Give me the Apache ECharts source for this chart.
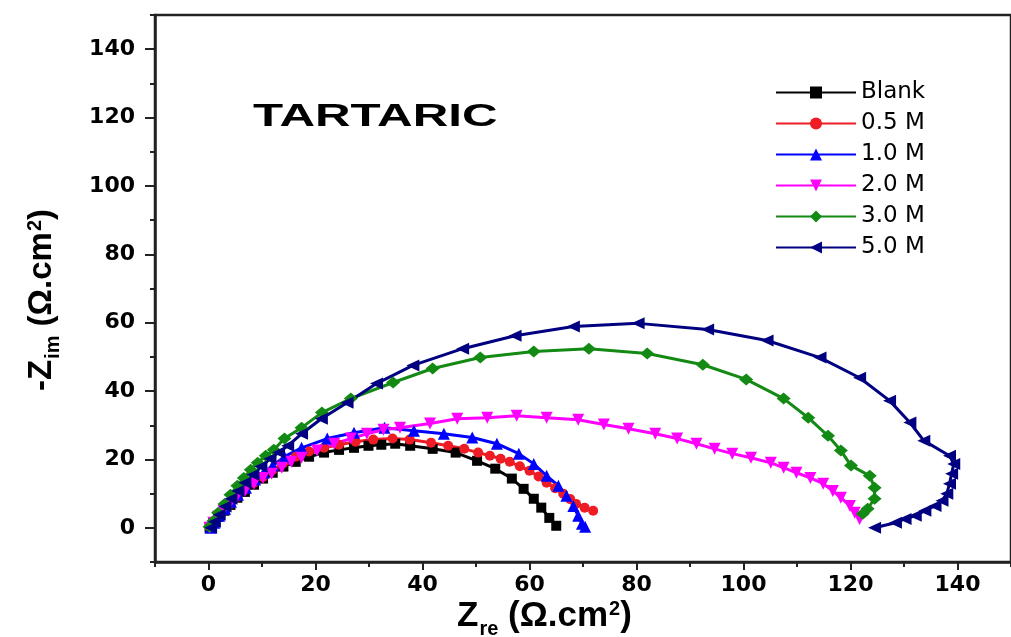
<!DOCTYPE html>
<html>
<head>
<meta charset="utf-8">
<script src="https://cdn.jsdelivr.net/npm/echarts@6/dist/echarts.min.js"></script>
<style>
html,body{margin:0;padding:0;background:#fff;}
#chart{width:1011px;height:637px;}
</style>
</head>
<body>
<div id="chart"></div>
<script>
// ---- data (Zre, -Zim) in ohm.cm2 ----
const seriesNames = ['Blank', '0.5 M', '1.0 M', '2.0 M', '3.0 M', '5.0 M'];

const blank = [[0.2,0],[0.9,1.5],[1.8,3.2],[3.0,5.0],[4.1,6.7],[5.4,8.8],[6.8,10.5],[8.5,12.6],[10.2,14.4],[12.0,16.1],[14.0,17.9],[16.3,19.3],[18.8,20.8],[21.6,22.0],[24.4,22.8],[27.2,23.4],[29.9,24.0],[32.3,24.3],[34.9,24.6],[37.7,24.0],[41.9,23.1],[46.2,22.0],[50.2,19.6],[53.6,17.3],[56.7,14.4],[58.9,11.4],[60.8,8.5],[62.2,5.9],[63.7,2.9],[65.0,0.6]];

const m05 = [[0.2,0],[0.9,1.5],[1.8,3.2],[3.0,5.3],[4.1,7.0],[5.4,9.1],[6.8,11.1],[8.5,13.2],[10.2,14.9],[12.0,17.0],[14.0,19.0],[16.3,20.8],[18.8,22.3],[21.6,23.4],[24.4,24.3],[27.5,25.2],[30.8,25.8],[34.4,26.1],[37.6,25.8],[41.6,24.9],[44.8,24.0],[47.8,23.1],[50.4,22.0],[52.6,21.1],[54.6,20.2],[56.3,19.3],[58.2,18.0],[60.0,16.7],[61.7,15.0],[63.2,13.2],[64.8,11.6],[66.3,10.0],[67.6,8.4],[68.7,7.0],[70.3,5.9],[71.9,5.0]];

const m10 = [[0.4,0],[1.1,1.5],[2.0,3.5],[3.1,5.6],[4.2,7.6],[5.5,9.7],[7.0,11.7],[8.7,14.1],[10.3,16.1],[12.0,18.2],[14.2,20.8],[17.4,23.4],[22.2,26.1],[27.2,27.8],[32.9,29.3],[38.4,28.4],[44.0,27.5],[49.3,26.4],[53.9,24.6],[58.0,21.7],[60.8,18.7],[63.2,15.2],[65.4,12.3],[66.9,9.4],[68.2,6.4],[69.1,3.5],[69.8,1.2],[70.4,0.3]];

const m20 = [[0.2,0],[0.9,1.5],[1.8,3.2],[2.8,5.0],[3.9,6.7],[5.2,8.8],[6.8,10.8],[8.5,12.9],[10.2,14.6],[11.8,15.8],[13.7,17.6],[15.5,19.3],[17.4,20.5],[20.3,22.6],[23.5,24.6],[26.6,26.1],[29.6,27.5],[32.7,28.7],[35.8,29.3],[41.4,30.5],[46.5,31.9],[52.1,32.2],[57.6,32.8],[63.2,32.2],[69.1,31.6],[73.9,30.2],[78.5,29.0],[83.5,27.5],[87.6,26.1],[91.2,24.6],[94.6,23.1],[97.9,21.7],[101.4,20.5],[105.1,19.0],[107.5,17.6],[109.9,16.1],[112.5,14.6],[114.9,12.9],[116.7,10.8],[118.2,8.8],[119.9,6.4],[120.8,4.4],[121.7,2.6]];

const m30 = [[0.2,0.3],[0.9,2.0],[1.8,4.4],[3.0,7.0],[4.1,9.7],[5.4,12.3],[6.6,14.6],[7.9,17.0],[9.2,19.0],[10.7,21.1],[12.2,22.8],[14.2,26.1],[17.4,29.3],[21.2,33.7],[26.6,37.8],[34.5,42.5],[41.9,46.6],[50.8,49.8],[60.8,51.6],[71.1,52.4],[82.0,51.0],[92.4,47.7],[100.5,43.4],[107.5,37.8],[112.1,32.2],[115.8,26.9],[118.2,22.6],[120.1,18.2],[123.6,15.2],[124.5,11.7],[124.5,8.5],[123.2,5.6],[122.3,4.1]];

const m50 = [[0.4,0],[1.1,1.8],[2.0,3.8],[3.1,6.2],[4.2,8.5],[5.5,10.8],[6.8,13.2],[8.3,15.5],[9.8,17.9],[11.5,20.2],[13.1,22.0],[14.8,24.0],[17.4,27.5],[21.1,31.9],[25.9,36.6],[31.4,42.2],[38.2,47.5],[47.5,52.4],[57.3,56.2],[68.2,58.9],[80.3,59.8],[93.3,58.0],[104.4,54.8],[114.3,49.8],[121.7,43.9],[127.3,37.2],[131.1,30.8],[133.7,25.5],[138.5,21.1],[139.3,18.7],[138.9,15.8],[138.5,12.9],[138.0,10.0],[137.1,7.9],[135.8,6.4],[133.9,5.0],[132.1,3.5],[130.2,2.6],[128.4,1.5],[124.5,0]];

const majorTicks = [0, 20, 40, 60, 80, 100, 120, 140];
const minorTicks = [-10, 10, 30, 50, 70, 90, 110, 130, 150];

// ---- styling ----
const colors = ['#000000', '#ee1c25', '#0000ff', '#ff00ff', '#138a13', '#000080'];
const symbols = ['rect', 'circle', 'triangle', 'triangle', 'diamond', 'triangle'];
const rotates = [0, 0, 0, 180, 0, 90];
const sizes = [10, 10, 12, 12, [14, 12], [12, 13]];
const datasets = [blank, m05, m10, m20, m30, m50];

const AX = '#222';
const tickFont = {fontFamily: 'DejaVu Sans', fontSize: 22, fontWeight: 'bold', color: '#000'};

function mainAxis(dim) {
  const isX = dim === 'x';
  return {
    type: 'value', min: -10, max: 150, interval: 10,
    position: isX ? 'bottom' : 'left',
    axisLine: {show: true, onZero: false, lineStyle: {color: AX, width: 2.5}},
    axisTick: {show: true, customValues: majorTicks, length: isX ? 8 : 10, lineStyle: {color: AX, width: 2}},
    axisLabel: Object.assign({customValues: majorTicks, margin: isX ? 12 : 20}, tickFont),
    splitLine: {show: false}
  };
}
function minorAxis(dim) {
  const isX = dim === 'x';
  return {
    type: 'value', min: -10, max: 150, interval: 10,
    position: isX ? 'bottom' : 'left',
    axisLine: {show: false, onZero: false},
    axisTick: {show: true, customValues: minorTicks, length: 5, lineStyle: {color: AX, width: 2}},
    axisLabel: {show: false},
    splitLine: {show: false}
  };
}

const titleFont = 'Liberation Sans';
const option = {
  backgroundColor: '#ffffff',
  animation: false,
  grid: {left: 155, right: -9, top: 15, bottom: 75, show: true, borderColor: AX, borderWidth: 2.5, backgroundColor: 'transparent'},
  xAxis: [mainAxis('x'), minorAxis('x')],
  yAxis: [mainAxis('y'), minorAxis('y')],
  legend: {
    orient: 'vertical', left: 770, top: 76,
    itemWidth: 80, itemHeight: 15, itemGap: 8,
    textStyle: {fontFamily: 'DejaVu Sans', fontSize: 23, color: '#000', lineHeight: 22},
    data: seriesNames
  },
  series: datasets.map((d, i) => ({
    name: seriesNames[i], type: 'line', xAxisIndex: 0, yAxisIndex: 0,
    data: d, symbol: symbols[i], symbolRotate: rotates[i], symbolSize: sizes[i],
    showAllSymbol: true, clip: false,
    lineStyle: {color: colors[i], width: 3},
    itemStyle: {color: colors[i]}
  })),
  graphic: [
    {type: 'text', x: 253, y: 117, scaleX: 1.54, z: 10,
     style: {text: 'TARTARIC', font: 'bold 32px "Liberation Sans"', fill: '#000',
             textAlign: 'left', align: 'left', textVerticalAlign: 'middle', verticalAlign: 'middle'}},
    {type: 'text', x: 457, y: 617, z: 10,
     style: {text: '{m|Z}{s|re}{m| (Ω.cm}{p|2}{m|)}', fill: '#000',
             textAlign: 'left', align: 'left', textVerticalAlign: 'middle', verticalAlign: 'middle',
             rich: {
               m: {fontFamily: titleFont, fontWeight: 'bold', fontSize: 35, lineHeight: 36, verticalAlign: 'top', fill: '#000'},
               s: {fontFamily: titleFont, fontWeight: 'bold', fontSize: 20, lineHeight: 20, verticalAlign: 'top', padding: [20, 0, 0, 1], fill: '#000'},
               p: {fontFamily: titleFont, fontWeight: 'bold', fontSize: 20, lineHeight: 20, verticalAlign: 'top', padding: [0, 0, 0, 1], fill: '#000'}
             }}},
    {type: 'text', x: 42, y: 300, rotation: Math.PI / 2, z: 10,
     style: {text: '{m|-Z}{s|im}{m| (Ω.cm}{p|2}{m|)}', fill: '#000',
             textAlign: 'center', align: 'center', textVerticalAlign: 'middle', verticalAlign: 'middle',
             rich: {
               m: {fontFamily: titleFont, fontWeight: 'bold', fontSize: 33, lineHeight: 34, verticalAlign: 'top', fill: '#000'},
               s: {fontFamily: titleFont, fontWeight: 'bold', fontSize: 20, lineHeight: 20, verticalAlign: 'top', padding: [18, 0, 0, 1], fill: '#000'},
               p: {fontFamily: titleFont, fontWeight: 'bold', fontSize: 20, lineHeight: 20, verticalAlign: 'top', padding: [0, 0, 0, 1], fill: '#000'}
             }}}
  ]
};

const chart = echarts.init(document.getElementById('chart'));
chart.setOption(option);
</script>
</body>
</html>
